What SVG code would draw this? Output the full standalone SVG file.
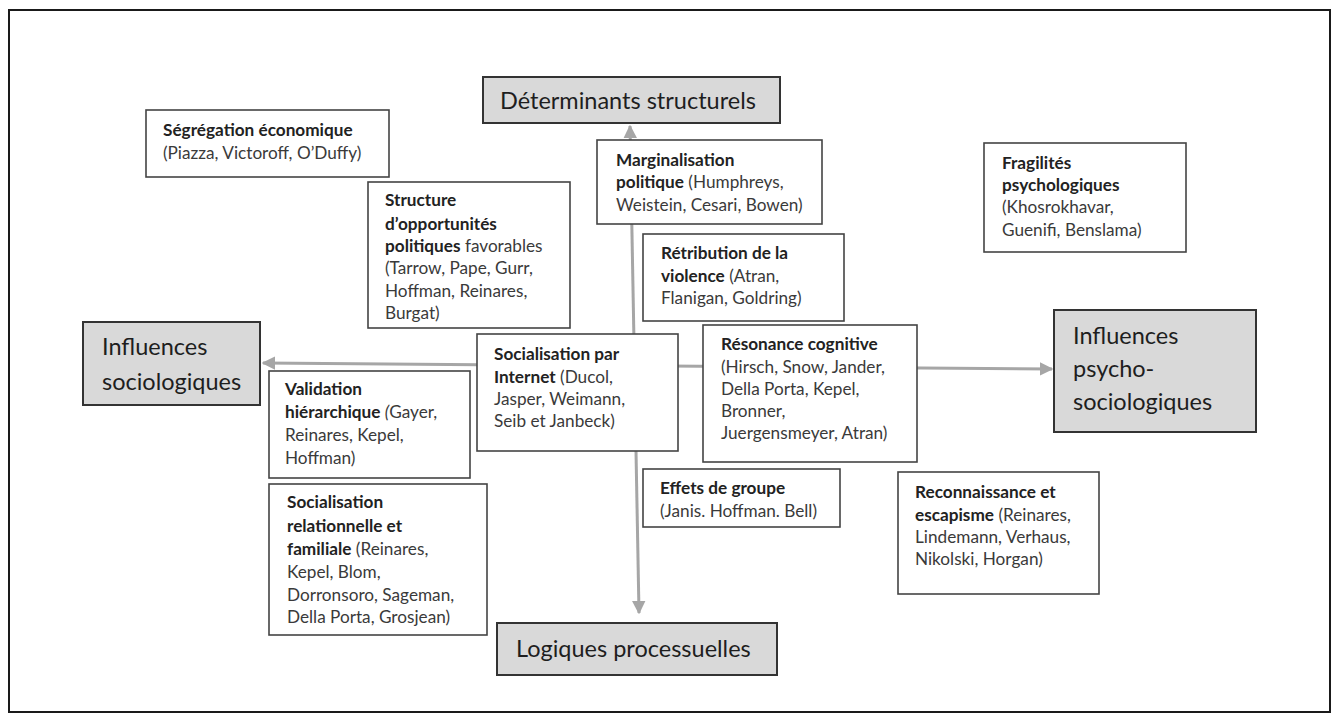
<svg xmlns="http://www.w3.org/2000/svg" width="1338" height="722" viewBox="0 0 1338 722">
<style>
.frame{fill:#fff;stroke:#1a1a1a;stroke-width:2}
.box{fill:#fff;stroke:#444;stroke-width:1.6}
.main{fill:#d9d9d9;stroke:#333;stroke-width:2}
.t{font-family:Lato,"Open Sans","Liberation Sans",sans-serif;font-size:17.2px;fill:#3a3a3a}
.b{font-weight:bold;fill:#222}
.big{font-family:Lato,"Open Sans","Liberation Sans",sans-serif;font-size:23.5px;fill:#1e1e1e}
.conn{stroke:#a6a6a6;stroke-width:3;fill:none}
</style>
<defs>
<marker id="ah" viewBox="0 0 10 10" refX="9" refY="5" markerWidth="4.5" markerHeight="4.5" orient="auto-start-reverse" markerUnits="strokeWidth">
<path d="M0,0 L10,5 L0,10 z" fill="#a6a6a6"/>
</marker>
</defs>
<rect class="frame" x="9" y="10" width="1321" height="702"/>
<g id="connectors">
<line class="conn" x1="630" y1="126" x2="639" y2="613" marker-start="url(#ah)" marker-end="url(#ah)"/>
<line class="conn" x1="263" y1="363" x2="1052" y2="369" marker-start="url(#ah)" marker-end="url(#ah)"/>
</g>
<g id="determinants">
<rect class="main" x="483" y="77" width="297" height="46"/>
<text class="big" x="500" y="109">Déterminants structurels</text>
</g>
<g id="influences-socio">
<rect class="main" x="83" y="322" width="177" height="83"/>
<text class="big" x="102" y="355">Influences</text>
<text class="big" x="102" y="390">sociologiques</text>
</g>
<g id="influences-psycho">
<rect class="main" x="1054" y="310" width="202" height="122"/>
<text class="big" x="1073" y="344">Influences</text>
<text class="big" x="1073" y="377">psycho-</text>
<text class="big" x="1073" y="410">sociologiques</text>
</g>
<g id="logiques">
<rect class="main" x="497" y="623" width="280" height="52"/>
<text class="big" x="516" y="657">Logiques processuelles</text>
</g>
<g id="segregation">
<rect class="box" x="146" y="110" width="243" height="67"/>
<text class="t" x="163" y="136"><tspan class="b">Ségrégation économique</tspan></text>
<text class="t" x="163" y="159">(Piazza, Victoroff, O’Duffy)</text>
</g>
<g id="structure">
<rect class="box" x="368" y="182" width="202" height="146"/>
<text class="t" x="385" y="206"><tspan class="b">Structure</tspan></text>
<text class="t" x="385" y="230"><tspan class="b">d’opportunités</tspan></text>
<text class="t" x="385" y="252"><tspan class="b">politiques</tspan> favorables</text>
<text class="t" x="385" y="274">(Tarrow, Pape, Gurr,</text>
<text class="t" x="385" y="297">Hoffman, Reinares,</text>
<text class="t" x="385" y="319">Burgat)</text>
</g>
<g id="marginalisation">
<rect class="box" x="597" y="140" width="225" height="84"/>
<text class="t" x="616" y="166"><tspan class="b">Marginalisation</tspan></text>
<text class="t" x="616" y="188"><tspan class="b">politique</tspan> (Humphreys,</text>
<text class="t" x="616" y="211">Weistein, Cesari, Bowen)</text>
</g>
<g id="retribution">
<rect class="box" x="643" y="234" width="201" height="87"/>
<text class="t" x="661" y="259"><tspan class="b">Rétribution de la</tspan></text>
<text class="t" x="661" y="282"><tspan class="b">violence</tspan>  (Atran,</text>
<text class="t" x="661" y="304">Flanigan, Goldring)</text>
</g>
<g id="fragilites">
<rect class="box" x="984" y="143" width="202" height="109"/>
<text class="t" x="1002" y="169"><tspan class="b">Fragilités</tspan></text>
<text class="t" x="1002" y="191"><tspan class="b">psychologiques</tspan></text>
<text class="t" x="1002" y="213">(Khosrokhavar,</text>
<text class="t" x="1002" y="236">Guenifi, Benslama)</text>
</g>
<g id="socialisation-internet">
<rect class="box" x="477" y="334" width="201" height="117"/>
<text class="t" x="494" y="360"><tspan class="b">Socialisation par</tspan></text>
<text class="t" x="494" y="383"><tspan class="b">Internet</tspan> (Ducol,</text>
<text class="t" x="494" y="405">Jasper, Weimann,</text>
<text class="t" x="494" y="427">Seib et Janbeck)</text>
</g>
<g id="resonance">
<rect class="box" x="703" y="325" width="214" height="137"/>
<text class="t" x="721" y="350"><tspan class="b">Résonance cognitive</tspan></text>
<text class="t" x="721" y="373">(Hirsch, Snow, Jander,</text>
<text class="t" x="721" y="395">Della Porta, Kepel,</text>
<text class="t" x="721" y="417">Bronner,</text>
<text class="t" x="721" y="439">Juergensmeyer, Atran)</text>
</g>
<g id="validation">
<rect class="box" x="269" y="371" width="201" height="107"/>
<text class="t" x="285" y="395"><tspan class="b">Validation</tspan></text>
<text class="t" x="285" y="418"><tspan class="b">hiérarchique</tspan> <tspan font-style="italic">(</tspan>Gayer,</text>
<text class="t" x="285" y="441">Reinares, Kepel,</text>
<text class="t" x="285" y="464">Hoffman)</text>
</g>
<g id="socialisation-relationnelle">
<rect class="box" x="269" y="484" width="218" height="151"/>
<text class="t" x="287" y="508"><tspan class="b">Socialisation</tspan></text>
<text class="t" x="287" y="532"><tspan class="b">relationnelle et</tspan></text>
<text class="t" x="287" y="555"><tspan class="b">familiale</tspan> (Reinares,</text>
<text class="t" x="287" y="578">Kepel, Blom,</text>
<text class="t" x="287" y="601">Dorronsoro, Sageman,</text>
<text class="t" x="287" y="623">Della Porta, Grosjean)</text>
</g>
<g id="effets">
<rect class="box" x="643" y="469" width="197" height="58"/>
<text class="t" x="660" y="494"><tspan class="b">Effets de groupe</tspan></text>
<text class="t" x="660" y="517">(Janis. Hoffman. Bell)</text>
</g>
<g id="reconnaissance">
<rect class="box" x="898" y="472" width="201" height="122"/>
<text class="t" x="915" y="498"><tspan class="b">Reconnaissance et</tspan></text>
<text class="t" x="915" y="521"><tspan class="b">escapisme</tspan> (Reinares,</text>
<text class="t" x="915" y="543">Lindemann, Verhaus,</text>
<text class="t" x="915" y="565">Nikolski, Horgan)</text>
</g>
</svg>
